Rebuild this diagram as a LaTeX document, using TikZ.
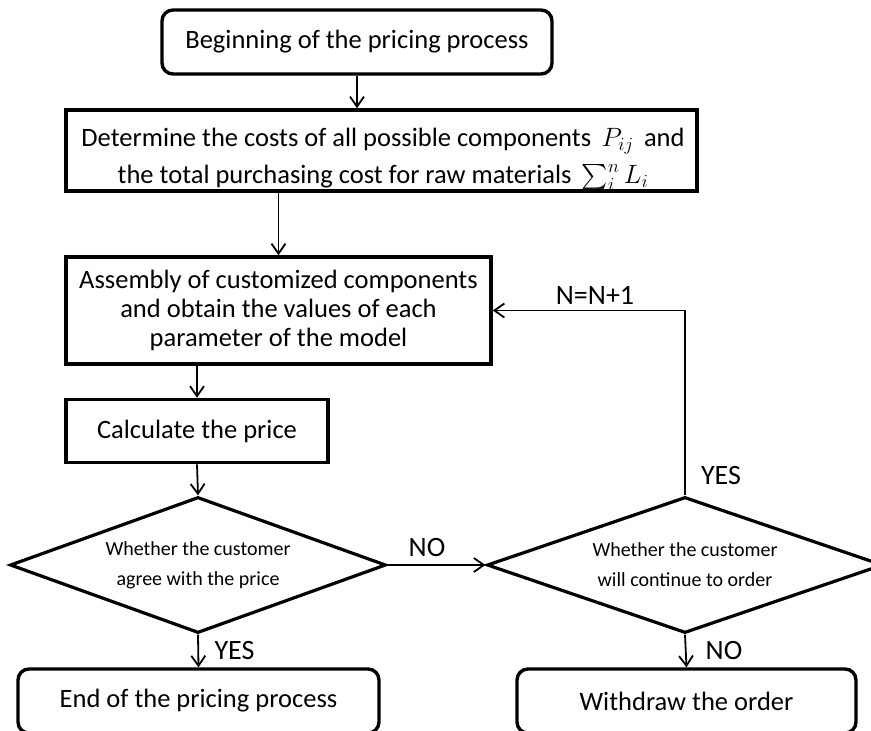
\RequirePackage{fix-cm}
\documentclass[tikz,border=0pt]{standalone}
\usepackage{exscale}
\usepackage{fontspec}
\setmainfont{Carlito}
\usetikzlibrary{shapes.geometric,arrows.meta}
\begin{document}
\begin{tikzpicture}[x=1pt,y=-1pt,
  every node/.style={font=\fontsize{26.5}{29}\selectfont},
  rbox/.style={draw,line width=3.4pt,rounded corners=11pt,inner sep=0pt},
  sbox/.style={draw,line width=3.6pt,inner sep=0pt,align=center},
  dia/.style={draw,line width=3.2pt,diamond,inner sep=0pt,align=center,
    font=\fontsize{20}{30}\selectfont},
  arr/.style={line width=1.8pt,-{Straight Barb[length=10pt,width=14pt,line width=1.8pt]}},
  lbl/.style={font=\fontsize{28}{30}\selectfont,inner sep=0pt},
  txt/.style={inner sep=0pt}]
\useasboundingbox (0,0) rectangle (871,731);
\clip (0,0) rectangle (871,731);
\node[rbox,minimum width=390pt,minimum height=64pt] (start) at (357,42) {Beginning of the pricing process};
\node[sbox,minimum width=631pt,minimum height=81pt] (det) at (381.5,150.5) {};
\node[txt] (det1) at (383,139) {Determine the costs of all possible components \,$\smash{P_{ij}}$\, and};
\node[txt] (det2) at (383,177) {the total purchasing cost for raw materials \,$\smash{\sum\nolimits_i^n L_i}$};
\node[sbox,minimum width=425pt,minimum height=107pt] (asm) at (278.5,310.5)
  {Assembly of customized components\\and obtain the values of each\\parameter of the model};
\node[sbox,minimum width=262pt,minimum height=63pt] (calc) at (197,431) {Calculate the price};
\node[dia,minimum width=376pt,minimum height=136pt,aspect=2.7] (d1) at (198,565)
  {Whether the customer\\agree with the price};
\node[dia,minimum width=396pt,minimum height=136pt,aspect=2.9] (d2) at (685,565)
  {Whether the customer\\will continue to order};
\node[rbox,minimum width=361pt,minimum height=64pt] (endp) at (198.5,701) {End of the pricing process};
\node[rbox,minimum width=339pt,minimum height=64pt] (wd) at (686.5,701) {Withdraw the order};
\draw[arr] (start.south) -- (det.north-|start.south);
\draw[arr] (det.south-|asm.north) -- (asm.north);
\draw[arr] (asm.south-|calc.north) -- (calc.north);
\draw[arr] (calc.south) -- (d1.north);
\draw[arr] (d1.east) -- (d2.west);
\draw[arr] (d1.south) -- (endp.north);
\draw[arr] (d2.south) -- (wd.north);
\coordinate (corner) at (d2.north|-asm.east);
\draw[arr] (d2.north) -- (corner) -- (asm.east);
\node[lbl] (lno) at (427,548) {NO};
\node[lbl] (lyes1) at (234.5,651) {YES};
\node[lbl] (lno2) at (724,651) {NO};
\node[lbl] (lyes2) at (721,476) {YES};
\node[lbl] (lnn) at (595,295) {N=N+1};
\end{tikzpicture}
\end{document}
